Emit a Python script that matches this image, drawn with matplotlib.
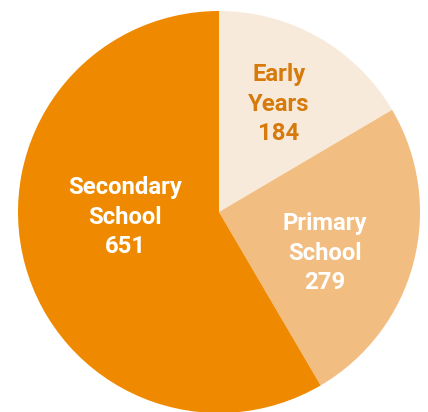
import matplotlib
matplotlib.use("Agg")
import matplotlib.pyplot as plt

categories = ["Early\nYears", "Primary\nSchool", "Secondary\nSchool"]
values = [184, 279, 651]
colors = ["#F8EADB", "#F2BD80", "#EF8A00"]
text_colors = ["#D67A0B", "#FFFFFF", "#FFFFFF"]
label_pos = [(279, 308), (325, 159), (125, 195)]

W, H = 428, 412
fig = plt.figure(figsize=(W / 100, H / 100), dpi=100)
ax = fig.add_axes([0, 0, 1, 1])

ax.pie(values, colors=colors, startangle=90, counterclock=False,
       center=(219, 200), radius=201, frame=True,
       wedgeprops=dict(linewidth=0))
ax.set_xlim(0, W)
ax.set_ylim(0, H)
ax.set_aspect("equal")
ax.axis("off")

for cat, v, tc, (x, y) in zip(categories, values, text_colors, label_pos):
    ax.text(x, y, f"{cat}\n{v}", ha="center", va="center", color=tc,
            fontsize=17.2, fontweight="bold", family=["Roboto", "DejaVu Sans"],
            linespacing=1.38)

fig.savefig("out.png", dpi=100)
